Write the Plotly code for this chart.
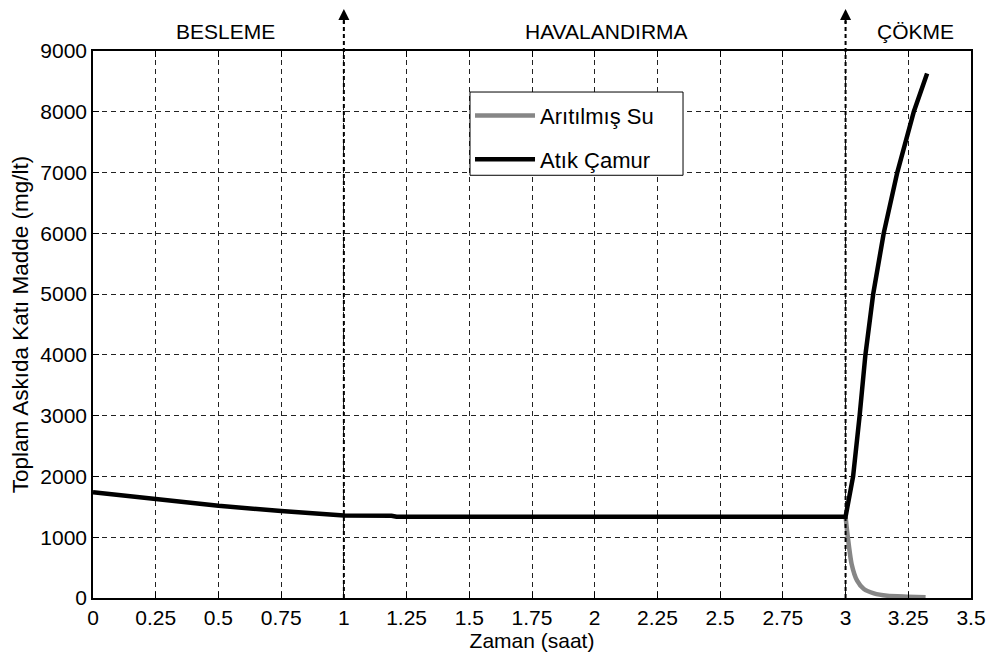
import plotly.graph_objects as go

# Atık Çamur (waste sludge) TSS over the cycle
sludge_t = [0, 0.25, 0.5, 0.75, 0.95, 1.0, 1.19, 1.21, 3.0,
            3.03, 3.056, 3.079, 3.11, 3.152, 3.206, 3.272, 3.325]
sludge_y = [1740, 1623, 1518, 1431, 1362, 1358, 1354, 1337, 1337,
            2000, 3000, 4000, 5000, 6000, 7000, 8000, 8630]

# Arıtılmış Su (treated water) TSS during settling
water_t = [3.0, 3.009, 3.024, 3.046, 3.073, 3.113, 3.166, 3.246, 3.319]
water_y = [1337, 1000, 560, 285, 148, 77, 38, 22, 11]

# Phase boundaries and labels
phase_bounds = [1, 3]
phase_names = ["BESLEME", "HAVALANDIRMA", "ÇÖKME"]
phase_label_x = [0.527, 2.046, 3.28]

x_ticks = [0, 0.25, 0.5, 0.75, 1, 1.25, 1.5, 1.75, 2, 2.25, 2.5, 2.75, 3, 3.25, 3.5]
x_tick_text = ["0", "0.25", "0.5", "0.75", "1", "1.25", "1.5", "1.75", "2",
               "2.25", "2.5", "2.75", "3", "3.25", "3.5"]
y_ticks = [0, 1000, 2000, 3000, 4000, 5000, 6000, 7000, 8000, 9000]

FONT = "Liberation Sans, Arial, sans-serif"

fig = go.Figure()
fig.add_trace(go.Scatter(
    x=water_t, y=water_y, mode="lines", name="Arıtılmış Su",
    line=dict(color="#868686", width=4.5, shape="spline", smoothing=0.6),
    legendgroup="a",
))
fig.add_trace(go.Scatter(
    x=sludge_t, y=sludge_y, mode="lines", name="Atık Çamur",
    line=dict(color="black", width=4.5),
    legendgroup="b",
))

# Dashed phase boundaries with arrowheads above the frame
for xb in phase_bounds:
    fig.add_shape(type="line", xref="x", yref="paper",
                  x0=xb, x1=xb, y0=0, y1=1.055,
                  line=dict(color="black", width=2, dash="4px,3px"))
    fig.add_annotation(x=xb, y=1.077, xref="x", yref="paper", text="",
                       showarrow=True, ax=0, ay=16, arrowhead=2,
                       arrowsize=1.1, arrowwidth=2, arrowcolor="black")

for name, xp in zip(phase_names, phase_label_x):
    fig.add_annotation(x=xp, y=1.035, xref="x", yref="paper", text=name,
                       showarrow=False, xanchor="center", yanchor="middle",
                       font=dict(family=FONT, size=21, color="black"))

# Legend frame (white box with black border)
fig.add_shape(type="rect", xref="paper", yref="paper", layer="above",
              x0=0.4294, x1=0.6720, y0=0.7728, y1=0.9250,
              fillcolor="white", line=dict(color="black", width=1))

axis_common = dict(
    showline=True, linecolor="black", linewidth=1.5, mirror="ticks",
    ticks="inside", ticklen=6, tickcolor="black",
    showgrid=True, gridcolor="#222", gridwidth=1, griddash="5px,4px",
    zeroline=False,
    tickfont=dict(family=FONT, size=21, color="black"),
)

fig.update_xaxes(range=[0, 3.5], tickvals=x_ticks, ticktext=x_tick_text,
                 title=dict(text="Zaman (saat)", standoff=3,
                            font=dict(family=FONT, size=21, color="black")),
                 **axis_common)
fig.update_yaxes(range=[0, 9000], tickvals=y_ticks,
                 title=dict(text="Toplam Askıda Katı Madde (mg/lt)", standoff=5,
                            font=dict(family=FONT, size=22.5, color="black")),
                 **axis_common)

fig.update_layout(
    width=997, height=657,
    margin=dict(l=93, r=26, t=51, b=59, autoexpand=False),
    paper_bgcolor="white", plot_bgcolor="white",
    font=dict(family=FONT, size=21, color="black"),
    legend=dict(x=0.4294, y=0.92, xanchor="left", yanchor="top",
                bgcolor="rgba(0,0,0,0)", borderwidth=0,
                font=dict(family=FONT, size=22, color="black"),
                tracegroupgap=12, itemwidth=60),
    showlegend=True,
)

fig.write_html("out.html")
